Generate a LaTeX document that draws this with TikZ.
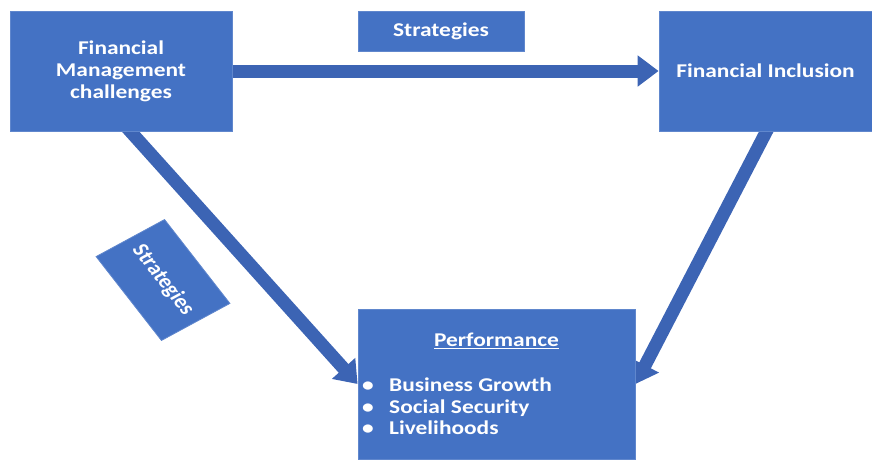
\documentclass[tikz,border=0pt]{standalone}
\usepackage{fontspec}
\setmainfont{Carlito}[FakeStretch=1.2]
\newfontfamily\narrowfont{Carlito}
\usetikzlibrary{arrows.meta,backgrounds}
\definecolor{boxblue}{RGB}{68,114,196}
\definecolor{arrowblue}{RGB}{60,100,180}
\begin{document}
\begin{tikzpicture}[x=1pt,y=-1pt,
    box/.style={fill=boxblue,draw=boxblue!85!white,line width=0.8pt,text=white,
      font=\bfseries\fontsize{19.5}{22}\selectfont,align=center,inner sep=0pt},
    boxtext/.style={text=white,font=\bfseries\fontsize{19.5}{21.5}\selectfont,inner sep=0pt},
    blockarrow/.style={draw=arrowblue,line width=13pt,-{Triangle[width=30pt,length=21pt]}}]
  \useasboundingbox (0,0) rectangle (872,459);
  \node[box,minimum width=222pt,minimum height=120pt] (fmc) at (121,71) {Financial\\Management\\challenges};
  \node[box,minimum width=213pt,minimum height=120pt] (fi) at (765.5,71) {Financial Inclusion};
  \node[box,minimum width=166pt,minimum height=40pt] (strattop) at (441,31) {Strategies};
  \node[box,minimum width=277pt,minimum height=150pt] (perf) at (496.5,384) {};
  \node[boxtext] (perftitle) at ([yshift=-32pt]perf.north) {\underline{Performance}};
  \node[boxtext,anchor=west,align=left] (perflist) at (362,406.5)
    {\makebox[27pt][l]{\textbullet}Business Growth\\
     \makebox[27pt][l]{\textbullet}Social Security\\
     \makebox[27pt][l]{\textbullet}Livelihoods};
  \begin{scope}[shift={(163,280)},xscale=1.2]
    \node[box,font=\narrowfont\bfseries\fontsize{19.5}{22}\selectfont,rotate=-57,transform shape,
      minimum width=100pt,minimum height=68pt] (stratdiag) {Strategies};
  \end{scope}
  \begin{scope}[on background layer]
    \draw[blockarrow] (fmc.east) -- (fi.west);
    \draw[blockarrow] ([xshift=4pt,yshift=6pt]fmc.south) -- (perf.west);
    \draw[blockarrow] ([xshift=4pt,yshift=6pt]fi.south) -- (perf.east);
  \end{scope}
\end{tikzpicture}
\end{document}
